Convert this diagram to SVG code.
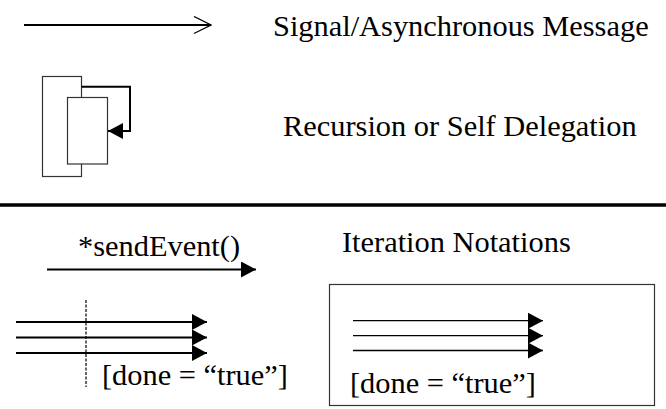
<svg xmlns="http://www.w3.org/2000/svg" width="666" height="409" viewBox="0 0 666 409">
  <style>
    .lbl { font-family: "Liberation Serif", "Times New Roman", serif; font-size: 30.4px; fill: #000; }
    .msg { stroke: #000; stroke-width: 2; fill: none; }
    .thin { stroke: #000; stroke-width: 1.3; fill: none; }
    .box { stroke: #333; stroke-width: 1.2; fill: #fff; }
  </style>
  <defs>
    <marker id="solid" viewBox="0 0 15 16" markerWidth="15" markerHeight="16" refX="15" refY="8" orient="auto" markerUnits="userSpaceOnUse">
      <path d="M0,0 L15,8 L0,16 Z" fill="#000"/>
    </marker>
    <marker id="open" viewBox="0 0 19 19" markerWidth="19" markerHeight="19" refX="18" refY="9.5" orient="auto" markerUnits="userSpaceOnUse">
      <path d="M1,1 L18,9.5 L1,18" fill="none" stroke="#000" stroke-width="1.3"/>
    </marker>
  </defs>

  <!-- legend: asynchronous message -->
  <g id="async-legend">
    <line class="msg" x1="24" y1="25" x2="211" y2="25" marker-end="url(#open)"/>
    <text class="lbl" x="273" y="36">Signal/Asynchronous Message</text>
  </g>

  <!-- legend: recursion / self delegation -->
  <g id="recursion-legend">
    <rect id="outer-activation" class="box" x="42.5" y="76.5" width="39" height="100"/>
    <rect id="inner-activation" class="box" x="67.5" y="97.5" width="40" height="66.5"/>
    <text class="lbl" x="283" y="136">Recursion or Self Delegation</text>
  </g>

  <!-- separator -->
  <line id="divider" x1="0" y1="205" x2="666" y2="205" stroke="#000" stroke-width="3.5"/>

  <!-- iteration examples -->
  <g id="send-event">
    <text class="lbl" x="78" y="256">*sendEvent()</text>
  </g>
  <g id="iteration-title">
    <text class="lbl" x="342" y="252">Iteration Notations</text>
  </g>
  <g id="guarded-iteration">
    <line x1="86" y1="300" x2="86" y2="387" stroke="#000" stroke-width="1.2" stroke-dasharray="3,1.5"/>
    <text class="lbl" x="102" y="385">[done = “true”]</text>
  </g>
  <g id="boxed-iteration">
    <rect class="box" x="329.5" y="284.5" width="325" height="121"/>
    <text class="lbl" x="350" y="393">[done = “true”]</text>
  </g>

  <g id="connectors">
    <polyline class="msg" points="81.5,86.7 130,86.7 130,131 108,131" marker-end="url(#solid)"/>
    <line class="msg" x1="47" y1="269.5" x2="256" y2="269.5" marker-end="url(#solid)"/>
    <line class="msg" x1="16" y1="322" x2="207" y2="322" marker-end="url(#solid)"/>
    <line class="msg" x1="16" y1="337.5" x2="207" y2="337.5" marker-end="url(#solid)"/>
    <line class="msg" x1="16" y1="353" x2="207" y2="353" marker-end="url(#solid)"/>
    <line class="thin" x1="353" y1="320.7" x2="543" y2="320.7" marker-end="url(#solid)"/>
    <line class="thin" x1="353" y1="335.7" x2="543" y2="335.7" marker-end="url(#solid)"/>
    <line class="thin" x1="353" y1="350.5" x2="543" y2="350.5" marker-end="url(#solid)"/>
  </g>
</svg>
